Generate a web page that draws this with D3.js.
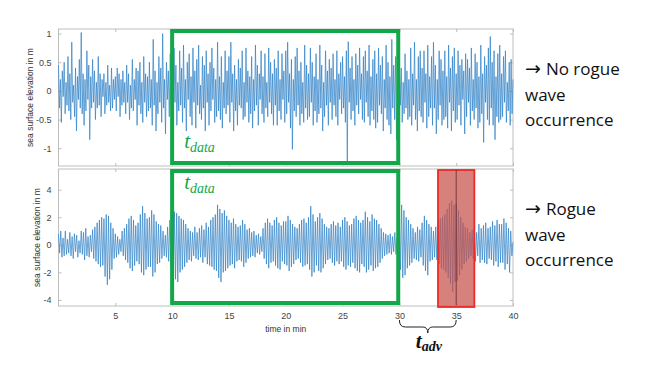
<!DOCTYPE html>
<html><head><meta charset="utf-8">
<script src="https://cdn.jsdelivr.net/npm/d3@7"></script>
<style>body{margin:0;background:#fff}svg{display:block}</style>
</head><body><svg id="c" width="650" height="366"></svg>
<script>
// ---- data (sea surface elevation in m) ----
const topStep = 1 / 12;     // minutes between samples, top record
const bottomStep = 0.1;     // minutes between samples, bottom record
const topSeries = [
.45,-.3,.2,-.55,.35,-.1,.5,-.4,.15,-.25,.6,-.35,
.3,-.5,.85,-.2,.1,-.45,.4,-.7,.25,-.15,.55,-.3,
1.02,-.4,.3,-.6,.2,-.35,.7,-.15,.45,-.85,.25,-.3,
.55,-.2,.35,-.5,.15,-.3,.6,-.25,.3,-.45,.2,-.1,
.3,-.4,.15,-.25,.45,-.2,.1,-.35,.4,-.3,.2,-.15,
.25,-.35,.4,-.1,.3,-.45,.2,-.25,.35,-.2,.15,-.4,
.45,-.2,.3,-.5,.1,-.3,.55,-.35,.2,-.15,.4,-.6,
.35,-.25,.5,-.4,.15,-.55,.6,-.2,.3,-.45,.25,-.35,
.5,-.3,.2,-.6,.9,-.25,.35,-.7,.15,-.4,.6,-.2,
.4,-.55,1.0,-.3,.2,-.75,.5,-.15,.35,-.45,.65,-.3,
.3,-.5,.75,-.2,.45,-.6,.15,-.35,.7,-.25,.4,-.55,
.8,-.3,.2,-.7,.5,-.15,.65,-.45,.25,-.6,.75,-.2,
.35,-.65,.55,-.25,.8,-.4,.1,-.5,.6,-.3,.45,-.7,
.7,-.2,.3,-.6,.5,-.35,.75,-.15,.4,-.55,.2,-.45,
.85,-.35,.25,-.5,.6,-.65,.15,-.3,.7,-.4,.35,-.25,
.6,-.55,.85,-.2,.3,-.7,.45,-.35,.2,-.6,.55,-.25,
.4,-.3,.7,-.5,.15,-.45,.75,-.2,.35,-.55,.25,-.4,
.6,-.65,.2,-.35,.8,-.25,.45,-.6,.3,-.15,.7,-.4,
.25,-.55,.65,-.3,.15,-.45,.75,-.2,.5,-.4,.3,-.6,
.55,-.25,.4,-.6,.7,-.35,.2,-.5,.65,-.15,.35,-.55,
.7,-.4,.85,-.2,.3,-.65,.55,-1.02,.2,-.35,.6,-.45,
.75,-.25,.35,-.6,.5,-.4,.15,-.55,.8,-.3,.45,-.5,
.3,-.45,.75,-.2,.5,-.6,.25,-.35,.65,-.55,.2,-.4,
.8,-.3,.45,-.7,.15,-.45,.7,-.25,.35,-.6,.55,-.2,
.4,-.5,.65,-.25,.2,-.45,.7,-.6,.3,-.15,.5,-.4,
.6,-.3,.25,-.55,.7,-1.25,.86,-.2,.4,-.5,.6,-.35,
.2,-.6,.65,-.25,.45,-.4,.75,-.15,.3,-.5,.6,-.55,
.7,-.2,.35,-.45,.8,-.6,.25,-.35,.55,-.5,.7,-.65,
.3,-.55,.75,-.25,.45,-.4,.6,-.7,.2,-.3,.8,-.5,
.5,-.6,.25,-.75,.9,-.3,.45,-.5,.6,-.85,.2,-.35,
.5,-.25,.4,-.55,.15,-.4,.65,-.3,.35,-.5,.2,-.45,
.75,-.6,.3,-.25,.85,-.5,.2,-.7,.6,-.35,.7,-.45,
.4,-.55,.7,-.2,.3,-.65,.8,-.45,.25,-.3,.6,-.6,
.85,-.3,.45,-.75,.2,-.5,.7,-.25,.55,-.6,.35,-.5,
.7,-.45,.25,-.65,.8,-.2,.4,-.7,.6,-.35,.75,-.55,
.3,-.5,.7,-.25,.45,-.6,.55,-.15,.35,-.75,.65,-.45,
.55,-.2,.4,-.6,.75,-.35,.2,-.5,.65,-.3,.5,-.65,
.25,-.55,.8,-.4,.3,-.9,.6,-.2,.45,-.5,.75,-.6,
.95,-.3,.5,-.6,.7,-.85,.25,-.45,.65,-.55,.8,-.5,
.3,-.45,.6,-.2,.7,-.55,.15,-.35,.5,-.6,.55,-.4,
.2];
const bottomSeries = [
.8,-.6,1.0,-.9,.5,-.8,1.0,-.7,.4,-.6,
.9,-.8,.6,-1.0,.8,-.5,.7,-.9,.3,-.6,
1.0,-.7,.9,-1.1,1.2,-.8,.6,-.9,.7,-.5,
1.1,-1.0,1.3,-1.2,1.6,-1.4,1.8,-1.6,2.0,-1.5,
1.9,-2.3,2.2,-2.9,2.1,-2.5,1.6,-1.8,1.2,-1.0,
.8,-.9,.6,-.7,.4,-.5,1.0,-.8,1.2,-1.1,
1.5,-1.3,1.9,-1.7,2.1,-1.9,1.8,-1.5,1.4,-1.2,
1.6,-1.4,2.2,-2.0,2.8,-2.2,2.3,-1.8,1.9,-1.6,
2.0,-1.6,2.5,-2.3,2.2,-2.0,1.7,-1.4,1.5,-1.3,
1.4,-1.0,1.0,-.8,.7,-.9,1.3,-1.2,1.8,-1.6,
2.0,-2.2,2.4,-2.5,2.3,-2.7,2.1,-2.0,1.9,-1.8,
1.8,-1.6,1.5,-1.3,1.2,-1.1,1.0,-1.2,.9,-.8,
1.3,-1.0,.9,-1.1,1.2,-.9,1.4,-1.3,1.1,-.9,
1.6,-1.4,1.3,-1.5,1.8,-1.6,2.0,-1.8,2.2,-1.9,
2.9,-2.4,2.6,-2.7,2.3,-2.0,2.5,-1.9,2.1,-1.7,
1.8,-1.5,1.6,-1.4,1.9,-1.7,1.5,-1.2,1.3,-1.1,
1.4,-1.2,1.8,-1.6,1.5,-1.3,1.1,-1.0,1.2,-.9,
.9,-.8,1.0,-.9,.7,-.6,.8,-.7,.6,-.5,
1.2,-1.0,1.6,-1.4,1.9,-1.7,1.6,-1.3,1.4,-1.2,
1.8,-1.5,2.0,-1.7,1.6,-1.8,1.4,-1.2,1.7,-1.4,
1.7,-1.5,2.1,-1.9,1.8,-1.6,1.5,-1.4,1.3,-1.1,
1.2,-1.0,1.5,-1.3,1.8,-1.6,1.9,-1.5,1.6,-1.4,
2.0,-1.8,2.8,-2.3,2.2,-2.0,1.7,-1.5,2.0,-1.9,
2.3,-2.0,1.9,-1.7,1.5,-1.4,1.3,-1.1,1.2,-1.0,
1.5,-1.3,1.7,-1.5,1.4,-1.2,1.6,-1.4,1.3,-1.2,
1.8,-1.6,2.0,-1.8,1.7,-1.5,1.4,-1.6,1.5,-1.3,
1.9,-1.7,2.1,-1.9,1.8,-2.0,1.6,-1.4,1.8,-1.6,
2.4,-2.0,2.0,-1.8,1.7,-1.5,2.2,-1.9,1.9,-1.7,
1.8,-1.6,1.5,-1.3,1.2,-1.0,.9,-.8,.8,-.7,
.7,-.6,.8,-.7,.6,-.5,.9,-.7,.5,-.6,
1.6,-1.8,2.9,-2.4,2.5,-2.2,2.0,-1.7,1.8,-1.5,
1.5,-1.3,1.2,-1.0,.9,-1.1,1.3,-1.2,1.1,-.9,
1.6,-1.5,2.1,-1.9,1.8,-2.2,1.5,-1.2,1.3,-1.1,
1.0,-.9,1.3,-1.1,1.6,-1.4,1.9,-1.7,2.0,-1.8,
2.2,-2.0,2.6,-2.4,3.0,-2.8,3.2,-3.4,2.9,-2.7,
3.0,-2.6,2.5,-2.2,2.0,-1.8,1.6,-1.4,1.3,-1.2,
1.2,-1.0,.9,-.8,1.1,-1.0,1.3,-1.2,.9,-.8,
1.5,-1.3,1.2,-1.1,1.4,-1.3,1.6,-1.4,1.2,-1.0,
1.3,-1.1,1.7,-1.5,1.4,-1.2,1.8,-1.6,1.5,-1.3,
1.5,-1.3,1.9,-1.8,1.6,-1.4,1.2,-2.0,1.0,-.8,
.2];
const timeDomain = [0, 40];
const xTicks = [5, 10, 15, 20, 25, 30, 35, 40];
const topYDomain = [-1.31, 1.08];
const topYTicks = [-1, -0.5, 0, 0.5, 1];
const bottomYDomain = [-4.44, 5.5];
const bottomYTicks = [-4, -2, 0, 2, 4];
const dataWindow = [10, 29.9];      // t_data
const rogueWindow = [33.4, 36.6];   // rogue wave box
const rogueTime = 35;
const advanceWindow = [30, 35];     // t_adv
const topNote = ["No rogue", "wave", "occurrence"];
const bottomNote = ["Rogue", "wave", "occurrence"];

// ---- layout ----
const svg = d3.select("#c");
const L = 58.5, R = 513;
const x = d3.scaleLinear().domain(timeDomain).range([L, R]);
const panels = [
  {series: topSeries, step: topStep, dom: topYDomain, ticks: topYTicks, top: 29, bot: 166, labels: false, labX: 33, note: topNote, noteY: 75, tdY: 148},
  {series: bottomSeries, step: bottomStep, dom: bottomYDomain, ticks: bottomYTicks, top: 169, bot: 306, labels: true, labX: 40, note: bottomNote, noteY: 215, tdY: 189}
];
const axisColor = "#bdbdbd", textColor = "#444";
const green = "#12a84a";

panels.forEach(p => {
  const y = d3.scaleLinear().domain(p.dom).range([p.bot, p.top]);
  const g = svg.append("g");
  g.append("rect").attr("x", L).attr("y", p.top).attr("width", R - L).attr("height", p.bot - p.top)
    .attr("fill", "#fff").attr("stroke", axisColor).attr("stroke-width", 1);

  const styleAxis = sel => {
    sel.select(".domain").remove();
    sel.selectAll(".tick line").attr("stroke", axisColor);
    sel.selectAll("text").attr("fill", textColor).style("font-family", "Liberation Sans, Arial, sans-serif").style("font-size", "9px");
  };
  g.append("g").attr("transform", `translate(0,${p.bot})`)
    .call(d3.axisBottom(x).tickValues(xTicks).tickSize(-3).tickPadding(7).tickFormat(p.labels ? d => String(d) : () => ""))
    .call(styleAxis);
  g.append("g").attr("transform", `translate(0,${p.top})`)
    .call(d3.axisTop(x).tickValues(xTicks).tickSize(-3).tickFormat(() => ""))
    .call(styleAxis);
  g.append("g").attr("transform", `translate(${L},0)`)
    .call(d3.axisLeft(y).tickValues(p.ticks).tickSize(-3).tickPadding(7).tickFormat(d => String(d)))
    .call(styleAxis);
  g.append("g").attr("transform", `translate(${R},0)`)
    .call(d3.axisRight(y).tickValues(p.ticks).tickSize(-3).tickFormat(() => ""))
    .call(styleAxis);

  const line = d3.line().x((d, i) => x(i * p.step)).y(d => y(d));
  g.append("path").datum(p.series).attr("d", line).attr("fill", "none")
    .attr("stroke", "#2d80c6").attr("stroke-width", 0.7).attr("stroke-linejoin", "round");

  g.append("text").attr("transform", `translate(${p.labX},${(p.top + p.bot) / 2}) rotate(-90)`)
    .attr("text-anchor", "middle").attr("fill", "#333")
    .style("font-family", "Liberation Sans, Arial, sans-serif").style("font-size", "8.5px")
    .text("sea surface elevation in m");

  // green t_data box
  g.append("rect").attr("x", x(dataWindow[0])).attr("y", p.top + 2)
    .attr("width", x(dataWindow[1]) - x(dataWindow[0])).attr("height", p.bot - p.top - 5)
    .attr("fill", "none").attr("stroke", green).attr("stroke-width", 4);
  const td = g.append("text").attr("x", x(dataWindow[0]) + 12).attr("y", p.tdY)
    .attr("fill", green).style("font-family", "Liberation Serif, serif").style("font-style", "italic");
  td.append("tspan").style("font-size", "21px").text("t");
  td.append("tspan").style("font-size", "14px").attr("dy", 4).text("data");

  const nt = svg.append("text").attr("fill", "#111")
    .style("font-family", "Open Sans, sans-serif").style("font-size", "17px");
  p.note.forEach((s, i) => {
    const ts = nt.append("tspan").attr("x", 525).attr("y", p.noteY + i * 25.5);
    if (i === 0) {
      nt.append("tspan").style("font-family", "DejaVu Sans, sans-serif").style("font-size", "19px").text("\u2192");
      nt.append("tspan").attr("dx", 5).text(s);
      ts.remove();
      nt.select("tspan").attr("x", 525).attr("y", p.noteY);
    } else {
      ts.text(s);
    }
  });
});

// rogue wave box (bottom panel)
const bp = panels[1];
svg.append("rect").attr("x", x(rogueWindow[0])).attr("y", bp.top + 1)
  .attr("width", x(rogueWindow[1]) - x(rogueWindow[0])).attr("height", bp.bot - bp.top)
  .attr("fill", "#c8504a").attr("fill-opacity", 0.72).attr("stroke", "#ee2a26").attr("stroke-width", 1.8);
svg.append("line").attr("x1", x(rogueTime)).attr("x2", x(rogueTime)).attr("y1", bp.top + 1).attr("y2", bp.bot - 1)
  .attr("stroke", "#5a2828").attr("stroke-width", 0.9).attr("stroke-opacity", 0.85);

// t_adv brace
const bx0 = x(advanceWindow[0]), bx1 = x(advanceWindow[1]), bm = (bx0 + bx1) / 2;
const yTop = 320, yMid = 327, yTip = 333;
svg.append("path").attr("d",
  `M${bx0},${yTop} Q${bx0},${yMid} ${bx0 + 6},${yMid} L${bm - 5},${yMid} Q${bm},${yMid} ${bm},${yTip} Q${bm},${yMid} ${bm + 5},${yMid} L${bx1 - 6},${yMid} Q${bx1},${yMid} ${bx1},${yTop}`)
  .attr("fill", "none").attr("stroke", "#222").attr("stroke-width", 1);
const ta = svg.append("text").attr("x", bm - 12).attr("y", 348).attr("fill", "#111")
  .style("font-family", "Liberation Serif, serif").style("font-style", "italic").style("font-weight", "bold");
ta.append("tspan").style("font-size", "21px").text("t");
ta.append("tspan").style("font-size", "14px").attr("dy", 3).text("adv");

svg.append("text").attr("x", (L + R) / 2).attr("y", 332).attr("text-anchor", "middle").attr("fill", "#333")
  .style("font-family", "Liberation Sans, Arial, sans-serif").style("font-size", "8.5px").text("time in min");
</script></body></html>
